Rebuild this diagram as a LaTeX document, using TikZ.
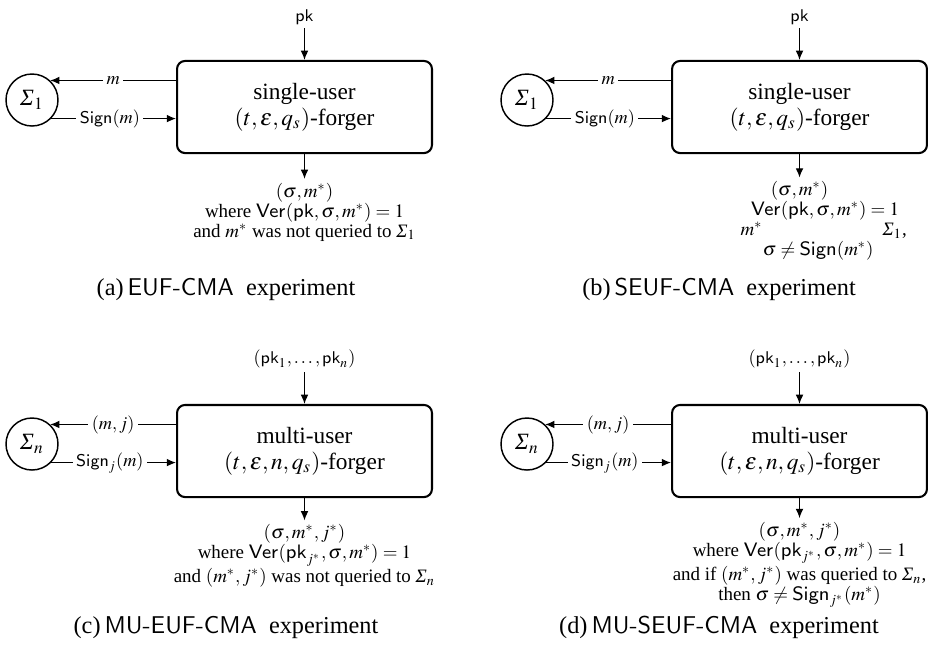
\documentclass[tikz,border=0pt]{standalone}
\usepackage{mathptmx}
\usepackage[no-math]{fontspec}
\setmainfont{Liberation Serif}
\usetikzlibrary{arrows.meta}

\newcommand\lblsize{\fontsize{7.5}{8.5}\selectfont}
\newcommand\boxsize{\fontsize{9.6}{10.7}\selectfont}
\newcommand\outsize{\fontsize{7.8}{8.2}\selectfont}
\newcommand\capsize{\fontsize{10}{12}\selectfont}
% slanted capital sigma for the signing oracles
\newcommand\Sig{\textit{Σ}}

\begin{document}
\begin{tikzpicture}[x=0.4115pt,y=-0.4115pt,
  forger/.style={draw, line width=0.85pt, rounded corners=3.3pt,
    minimum width=104.9pt, minimum height=37.9pt, align=center,
    font=\boxsize, inner sep=0pt},
  oracle/.style={draw, circle, line width=0.6pt, minimum size=21.4pt,
    inner sep=0pt, font=\boxsize},
  lbl/.style={font=\lblsize, inner sep=1.4pt},
  onwire/.style={lbl, fill=white},
  outtxt/.style={font=\outsize, align=center, inner sep=1.5pt},
  captxt/.style={font=\capsize, inner sep=0pt},
  arr/.style={-{Latex[length=3.8pt,width=3.2pt]}, line width=0.5pt}]
\useasboundingbox (0,0) rectangle (928,651);

% ---------- (a) single-user, existential forgery ----------
\node[oracle] (ca) at (32,100) {$\Sig_1$};
\node[forger] (fa) at (304.5,107) {single-user\\$(t,\varepsilon,q_s)$-forger};
\node[lbl] (pka) at (304.5,17) {$\mathsf{pk}$};
\draw[arr] (pka) -- (fa);
\draw[arr] (ca.47 -| fa.west) -- node[onwire]{$m$} (ca.47);
\draw[arr] (ca.-44) -- node[onwire,pos=0.47]{$\mathsf{Sign}(m)$} (ca.-44 -| fa.west);
\node[outtxt] (oa) at (304.5,212)
  {$(\sigma,m^*)$\\
   where $\mathsf{Ver}(\mathsf{pk},\sigma,m^*)=1$\\
   and $m^*$ was not queried to $\Sig_1$};
\draw[arr] (fa) -- (oa);
\node[captxt] (capa) at (226,289) {(a)\,\textsf{EUF-CMA}\ \ experiment};

% ---------- (b) single-user, strong forgery ----------
\begin{scope}[shift={(495,0)}]
\node[oracle] (cb) at (32,100) {$\Sig_1$};
\node[forger] (fb) at (304.5,107) {single-user\\$(t,\varepsilon,q_s)$-forger};
\node[lbl] (pkb) at (304.5,17) {$\mathsf{pk}$};
\draw[arr] (pkb) -- (fb);
\draw[arr] (cb.47 -| fb.west) -- node[onwire]{$m$} (cb.47);
\draw[arr] (cb.-44) -- node[onwire,pos=0.47]{$\mathsf{Sign}(m)$} (cb.-44 -| fb.west);
\node[outtxt] (ob) at (304.5,221)
  {$(\sigma,m^*)$\\
   \phantom{where} $\mathsf{Ver}(\mathsf{pk},\sigma,m^*)=1$\\
   \phantom{and if} $m^*$ \phantom{was queried to} $\Sig_1$,\\
   \phantom{then} $\sigma\neq\mathsf{Sign}(m^*)$};
\draw[arr] (fb) -- (ob);
\node[captxt] (capb) at (224,289) {(b)\,\textsf{SEUF-CMA}\ \ experiment};
\end{scope}

% ---------- (c) multi-user, existential forgery ----------
\begin{scope}[shift={(0,344)}]
\node[oracle] (cc) at (32,100) {$\Sig_n$};
\node[forger] (fc) at (304.5,107) {multi-user\\$(t,\varepsilon,n,q_s)$-forger};
\node[lbl] (pkc) at (304.5,15) {$(\mathsf{pk}_1,\ldots,\mathsf{pk}_n)$};
\draw[arr] (pkc) -- (fc);
\draw[arr] (cc.47 -| fc.west) -- node[onwire]{$(m,j)$} (cc.47);
\draw[arr] (cc.-44) -- node[onwire,pos=0.47]{$\mathsf{Sign}_j(m)$} (cc.-44 -| fc.west);
\node[outtxt] (oc) at (304.5,212)
  {$(\sigma,m^*,j^*)$\\
   where $\mathsf{Ver}(\mathsf{pk}_{j^*},\sigma,m^*)=1$\\
   and $(m^*,j^*)$ was not queried to $\Sig_n$};
\draw[arr] (fc) -- (oc);
\node[captxt] (capc) at (226,283) {(c)\,\textsf{MU-EUF-CMA}\ \ experiment};
\end{scope}

% ---------- (d) multi-user, strong forgery ----------
\begin{scope}[shift={(495,344)}]
\node[oracle] (cd) at (32,100) {$\Sig_n$};
\node[forger] (fd) at (304.5,107) {multi-user\\$(t,\varepsilon,n,q_s)$-forger};
\node[lbl] (pkd) at (304.5,15) {$(\mathsf{pk}_1,\ldots,\mathsf{pk}_n)$};
\draw[arr] (pkd) -- (fd);
\draw[arr] (cd.47 -| fd.west) -- node[onwire]{$(m,j)$} (cd.47);
\draw[arr] (cd.-44) -- node[onwire,pos=0.47]{$\mathsf{Sign}_j(m)$} (cd.-44 -| fd.west);
\node[outtxt] (od) at (304.5,221)
  {$(\sigma,m^*,j^*)$\\
   where $\mathsf{Ver}(\mathsf{pk}_{j^*},\sigma,m^*)=1$\\
   and if $(m^*,j^*)$ was queried to $\Sig_n$,\\
   then $\sigma\neq\mathsf{Sign}_{j^*}(m^*)$};
\draw[arr] (fd) -- (od);
\node[captxt] (capd) at (224,283) {(d)\,\textsf{MU-SEUF-CMA}\ \ experiment};
\end{scope}
\end{tikzpicture}
\end{document}
